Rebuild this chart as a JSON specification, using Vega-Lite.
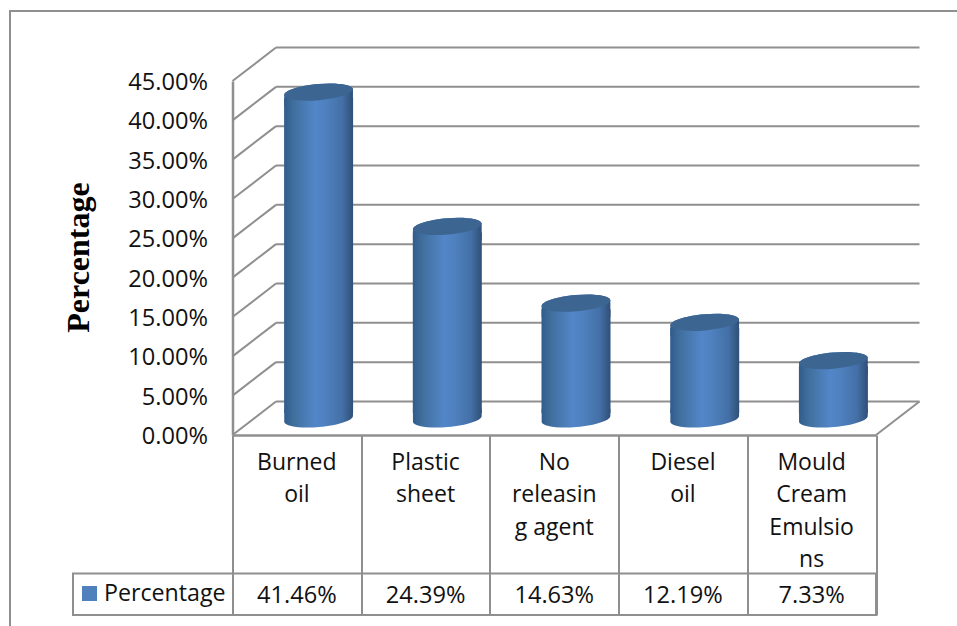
{
  "$schema": "https://vega.github.io/schema/vega-lite/v6.json",
  "width": 643.5,
  "height": 354,
  "autosize": {"type": "none"},
  "padding": {"left": 232.5, "top": 81, "right": 81, "bottom": 191},
  "background": "white",
  "view": {"stroke": null},
  "config": {"text": {"font": "Open Sans", "fontSize": 23.6, "color": "#111111"}},
  "data": {
    "values": [
      {"category": "Burned oil", "lines": ["Burned", "oil"], "share": 0.4146},
      {"category": "Plastic sheet", "lines": ["Plastic", "sheet"], "share": 0.2439},
      {"category": "No releasing agent", "lines": ["No", "releasin", "g agent"], "share": 0.1463},
      {"category": "Diesel oil", "lines": ["Diesel", "oil"], "share": 0.1219},
      {"category": "Mould Cream Emulsions", "lines": ["Mould", "Cream", "Emulsio", "ns"], "share": 0.0733}
    ]
  },
  "encoding": {
    "x": {
      "field": "category",
      "type": "nominal",
      "sort": null,
      "scale": {"paddingInner": 0, "paddingOuter": 0},
      "axis": {
        "title": null,
        "labels": false,
        "tickBand": "extent",
        "tickExtra": true,
        "tickSize": 180,
        "tickColor": "#8f8f8f",
        "tickWidth": 2,
        "domainColor": "#8f8f8f",
        "domainWidth": 2.5,
        "grid": false
      }
    },
    "y": {
      "field": "share",
      "type": "quantitative",
      "scale": {"domain": [0, 0.45], "nice": false},
      "axis": {
        "title": "Percentage",
        "titleFont": "Liberation Serif",
        "titleFontSize": 32,
        "titleFontWeight": "bold",
        "titleColor": "#000000",
        "titleX": -137,
        "titleY": 176,
        "values": [0, 0.05, 0.1, 0.15, 0.2, 0.25, 0.3, 0.35, 0.4, 0.45],
        "format": ".2%",
        "ticks": false,
        "grid": false,
        "labelFont": "Open Sans",
        "labelFontSize": 23.6,
        "labelColor": "#111111",
        "labelPadding": 25,
        "labelOffset": 1.5,
        "labelFlush": false,
        "labelOverlap": false,
        "domainColor": "#8f8f8f",
        "domainWidth": 2.5
      }
    }
  },
  "layer": [
    {
      "description": "outer chart border",
      "data": {"values": [{"part": "frame"}]},
      "mark": {"type": "rect", "fill": null, "stroke": "#8f8f8f", "strokeWidth": 2},
      "encoding": {
        "x": {"value": -222.5},
        "x2": {"value": 800},
        "y": {"value": -70},
        "y2": {"value": 700}
      }
    },
    {
      "description": "value row of the data table",
      "data": {"values": [{"part": "table"}]},
      "mark": {"type": "rect", "fill": null, "stroke": "#8f8f8f", "strokeWidth": 2},
      "encoding": {
        "x": {"value": -159.5},
        "x2": {"value": 643.5},
        "y": {"value": 492.5},
        "y2": {"value": 534}
      }
    },
    {
      "description": "gridlines on the back wall",
      "data": {"values": [{"tick": 0}, {"tick": 0.05}, {"tick": 0.1}, {"tick": 0.15}, {"tick": 0.2}, {"tick": 0.25}, {"tick": 0.3}, {"tick": 0.35}, {"tick": 0.4}, {"tick": 0.45}]},
      "mark": {"type": "rule", "color": "#8f8f8f", "strokeWidth": 2, "xOffset": 43.5, "x2Offset": 43.5, "yOffset": -33.5},
      "encoding": {
        "x": {"value": 0},
        "x2": {"value": 643.5},
        "y": {"field": "tick", "type": "quantitative"}
      }
    },
    {
      "description": "gridlines running along the side wall",
      "data": {"values": [{"tick": 0}, {"tick": 0.05}, {"tick": 0.1}, {"tick": 0.15}, {"tick": 0.2}, {"tick": 0.25}, {"tick": 0.3}, {"tick": 0.35}, {"tick": 0.4}, {"tick": 0.45}]},
      "mark": {"type": "rule", "color": "#8f8f8f", "strokeWidth": 2, "x2Offset": 43.5, "y2Offset": -33.5},
      "encoding": {
        "x": {"value": 0},
        "x2": {"value": 0},
        "y": {"field": "tick", "type": "quantitative"},
        "y2": {"field": "tick"}
      }
    },
    {
      "description": "right edge of the floor",
      "data": {"values": [{"tick": 0}]},
      "mark": {"type": "rule", "color": "#8f8f8f", "strokeWidth": 2, "x2Offset": 43.5, "y2Offset": -33.5},
      "encoding": {
        "x": {"value": 643.5},
        "x2": {"value": 643.5},
        "y": {"field": "tick", "type": "quantitative"},
        "y2": {"field": "tick"}
      }
    },
    {
      "description": "rounded foot of each cylinder",
      "mark": {
        "type": "point",
        "filled": true,
        "opacity": 1,
        "size": 4761,
        "xOffset": 21.75,
        "yOffset": -16,
        "shape": "M -0.996 0.087 L -0.996 -0.3 L 0.996 -0.3 L 0.996 -0.087 A 1 0.24 -5 0 1 -0.996 0.087 Z",
        "fill": {
          "gradient": "linear", "x1": 0, "x2": 1, "y1": 0, "y2": 0,
          "stops": [
            {"offset": 0, "color": "#315c8c"},
            {"offset": 0.15, "color": "#41709f"},
            {"offset": 0.45, "color": "#5286c8"},
            {"offset": 0.6, "color": "#4f81bf"},
            {"offset": 0.85, "color": "#436fa5"},
            {"offset": 1, "color": "#2f4f76"}
          ]
        }
      },
      "encoding": {"y": {"datum": 0}}
    },
    {
      "description": "cylinder body",
      "mark": {
        "type": "bar",
        "width": 69,
        "xOffset": 21.75,
        "yOffset": -10.75,
        "y2Offset": -22,
        "fill": {
          "gradient": "linear", "x1": 0, "x2": 1, "y1": 0, "y2": 0,
          "stops": [
            {"offset": 0, "color": "#315c8c"},
            {"offset": 0.15, "color": "#41709f"},
            {"offset": 0.45, "color": "#5286c8"},
            {"offset": 0.6, "color": "#4f81bf"},
            {"offset": 0.85, "color": "#436fa5"},
            {"offset": 1, "color": "#2f4f76"}
          ]
        }
      },
      "encoding": {"y2": {"datum": 0}}
    },
    {
      "description": "front rim below each cylinder's lid",
      "mark": {
        "type": "point",
        "filled": true,
        "opacity": 1,
        "size": 4761,
        "xOffset": 21.75,
        "yOffset": -16.75,
        "shape": "M -0.996 0.087 A 1 0.24 -5 0 1 0.996 -0.087 L 0.996 0.4 L -0.996 0.4 Z",
        "fill": {
          "gradient": "linear", "x1": 0, "x2": 1, "y1": 0, "y2": 0,
          "stops": [
            {"offset": 0, "color": "#315c8c"},
            {"offset": 0.15, "color": "#41709f"},
            {"offset": 0.45, "color": "#5286c8"},
            {"offset": 0.6, "color": "#4f81bf"},
            {"offset": 0.85, "color": "#436fa5"},
            {"offset": 1, "color": "#2f4f76"}
          ]
        }
      }
    },
    {
      "description": "cylinder lid",
      "mark": {
        "type": "point",
        "filled": true,
        "opacity": 1,
        "size": 4761,
        "xOffset": 21.75,
        "yOffset": -16.75,
        "fill": "#3c6592",
        "shape": "M -0.996 0.087 A 1 0.24 -5 0 1 0.996 -0.087 A 1 0.24 -5 0 1 -0.996 0.087 Z"
      }
    },
    {
      "description": "category names in the table header",
      "mark": {"type": "text", "baseline": "alphabetic", "align": "center", "lineHeight": 32.5, "fontSize": 23},
      "encoding": {
        "y": {"value": 388.5},
        "text": {"field": "lines"}
      }
    },
    {
      "description": "value row of the table",
      "mark": {"type": "text", "baseline": "middle", "align": "center"},
      "encoding": {
        "y": {"value": 514.5},
        "text": {"field": "share", "type": "quantitative", "format": ".2%"}
      }
    },
    {
      "description": "series key swatch",
      "data": {"values": [{"series": "Percentage"}]},
      "mark": {"type": "point", "shape": "square", "filled": true, "opacity": 1, "size": 225, "color": "#4f81bd"},
      "encoding": {
        "x": {"value": -143},
        "y": {"value": 512.5}
      }
    },
    {
      "description": "series key label",
      "data": {"values": [{"series": "Percentage"}]},
      "mark": {"type": "text", "align": "left", "baseline": "middle", "fontSize": 23.2},
      "encoding": {
        "x": {"value": -128.5},
        "y": {"value": 513},
        "text": {"field": "series"}
      }
    }
  ]
}
